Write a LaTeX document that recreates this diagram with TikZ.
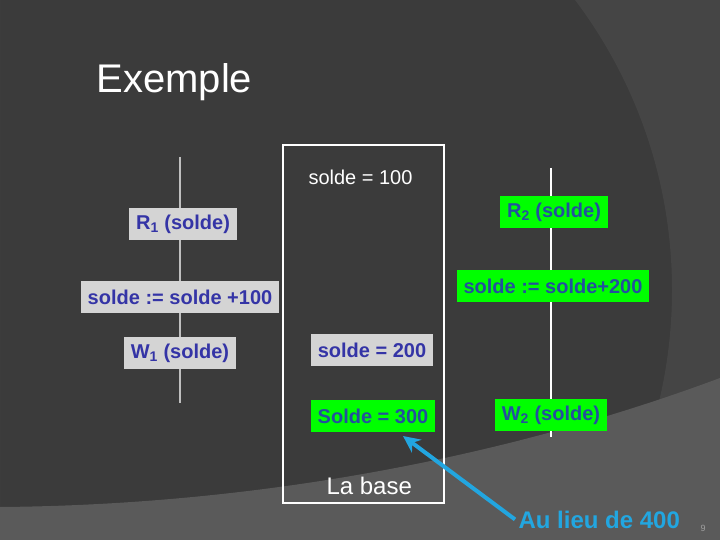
\documentclass[tikz,border=0pt]{standalone}
\usepackage{fontspec}
\setmainfont{Liberation Sans}
\usetikzlibrary{arrows.meta,positioning}
\definecolor{slidebg}{HTML}{3B3B3B}
\definecolor{slidemid}{HTML}{454545}
\definecolor{slidelow}{HTML}{5A5A5A}
\definecolor{boxgray}{HTML}{D4D4D4}
\definecolor{txtblue}{HTML}{3434A6}
\definecolor{boxgreen}{HTML}{00FF00}
\definecolor{txtteal}{HTML}{24509E}
\definecolor{arrowcyan}{HTML}{22A6E0}

\begin{document}
\begin{tikzpicture}[x=1pt, y=-1pt, >={Stealth[length=17pt,width=16pt]},
  grayop/.style={fill=boxgray, text=txtblue, font=\fontsize{20}{24}\selectfont\bfseries,
    inner xsep=7pt, minimum height=32pt},
  greenop/.style={fill=boxgreen, text=txtteal, font=\fontsize{20}{24}\selectfont\bfseries,
    inner xsep=7pt, minimum height=32pt}]
  % background
  \fill[slidebg] (0,0) rectangle (720,540);
  \begin{scope}
    \clip (0,0) rectangle (720,540);
    \fill[slidemid, even odd rule] (0,0) rectangle (720,540) (190,290) circle[radius=482];
    \fill[slidelow] (0,507) .. controls (250,505) and (500,460) .. (720,378) -- (720,540) -- (0,540) -- cycle;
  \end{scope}

  \node[anchor=base west, text=white, font=\fontsize{40}{48}\selectfont] (title) at (93,93) {Exemple};

  % the database
  \draw[white, line width=1.6pt] (283,145) rectangle (444,503);
  \node[anchor=base west, text=white, font=\fontsize{20}{24}\selectfont] (v100) at (305,185) {solde = 100};
  \node[anchor=base west, text=white, font=\fontsize{24}{28}\selectfont] (base) at (323,494) {La base};

  % transaction lines
  \coordinate (t1top) at (180,157);
  \coordinate (t1bot) at (180,403);
  \coordinate (t2top) at (551,168);
  \coordinate (t2bot) at (551,437);
  \draw[boxgray!90!black, line width=2pt] (t1top) -- (t1bot);
  \draw[white, line width=2pt] (t2top) -- (t2bot);

  \node[grayop] (R1) at (183,224) {R\textsubscript{1} (solde)};
  \node[grayop] (op1) at (180,297) {solde := solde +100};
  \node[grayop] (W1) at (180,353) {W\textsubscript{1} (solde)};
  \node[grayop] (v200) at (372,350) {solde = 200};

  \node[greenop] (R2) at (554,212) {R\textsubscript{2} (solde)};
  \node[greenop] (op2) at (553,286) {solde := solde+200};
  \node[greenop] (v300) at (373,416) {Solde = 300};
  \node[greenop] (W2) at (551,415) {W\textsubscript{2} (solde)};

  \node[anchor=base west, text=arrowcyan, font=\fontsize{24}{28}\selectfont\bfseries] (note) at (515,528) {Au lieu de 400};
  \coordinate (tip) at (403,436);
  \draw[->, arrowcyan, line width=4pt] (note.west) -- (tip);

  \node[anchor=base west, text=gray!75, font=\fontsize{9}{10}\selectfont] (page) at (697,531) {9};
\end{tikzpicture}
\end{document}
